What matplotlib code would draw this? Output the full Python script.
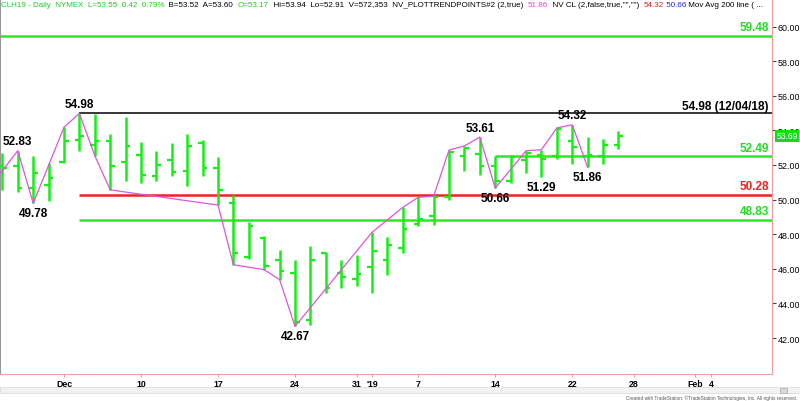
import matplotlib.pyplot as plt
from matplotlib.patches import Rectangle

# trading sessions (MM-DD), Nov 26 2018 .. Feb 8 2019
sessions = ["11-26", "11-27", "11-28", "11-29", "11-30", "12-03", "12-04", "12-05",
            "12-06", "12-07", "12-10", "12-11", "12-12", "12-13", "12-14", "12-17",
            "12-18", "12-19", "12-20", "12-21", "12-24", "12-26", "12-27", "12-28",
            "12-31", "01-02", "01-03", "01-04", "01-07", "01-08", "01-09", "01-10",
            "01-11", "01-14", "01-15", "01-16", "01-17", "01-18", "01-22", "01-23",
            "01-24", "01-25", "01-28", "01-29", "01-30", "01-31", "02-01", "02-04",
            "02-05", "02-06", "02-07", "02-08"]

# daily OHLC bars CLH19
bar_dates = sessions[1:42]
opens = [51.95, 51.95, 50.68, 50.85, 52.15, 53.46, 53.15, 53.40, 52.15, 52.59,
         51.36, 52.30, 51.67, 53.27, 51.82, 49.80, 46.66, 47.80, 46.52, 45.74,
         43.02, 46.91, 45.75, 45.41, 46.12, 46.52, 47.18, 48.60, 49.07, 50.13,
         52.50, 52.63, 51.95, 51.09, 52.30, 52.55, 52.53, 53.40, 52.50, 52.50, 53.17]
highs = [52.69, 52.83, 52.53, 52.10, 54.18, 54.98, 54.94, 53.81, 54.75, 53.31,
         52.79, 53.27, 53.79, 53.46, 52.44, 50.26, 48.68, 47.90, 47.08, 46.52,
         47.33, 46.98, 46.52, 46.79, 48.11, 47.81, 49.55, 50.13, 50.19, 52.86,
         53.10, 53.61, 52.50, 52.59, 52.82, 52.88, 54.14, 54.32, 53.60, 53.50, 53.94]
lows = [50.57, 50.42, 49.78, 49.93, 52.11, 52.82, 52.53, 50.56, 51.05, 50.95,
        51.05, 51.34, 50.77, 51.34, 49.68, 46.23, 46.56, 45.95, 45.37, 42.67,
        42.76, 44.60, 44.90, 44.98, 44.60, 45.66, 46.91, 48.45, 48.53, 50.00,
        51.67, 51.42, 50.66, 50.96, 51.53, 51.29, 52.34, 52.07, 51.86, 52.03, 52.91]
closes = [51.85, 50.69, 51.55, 51.24, 53.37, 53.69, 53.37, 51.96, 53.08, 51.44,
          52.01, 51.61, 53.08, 51.81, 50.55, 46.91, 48.49, 46.17, 45.90, 42.90,
          46.52, 44.87, 45.51, 45.70, 47.00, 47.37, 48.30, 48.85, 50.13, 52.73,
          52.96, 51.92, 51.05, 52.48, 52.67, 52.37, 54.08, 53.02, 52.57, 53.15, 53.69]

# NV_PLOTTRENDPOINTS swing line
pivot_dates = ["11-26", "11-28", "11-29", "12-03", "12-04", "12-05", "12-06", "12-17",
               "12-18", "12-20", "12-21", "12-24", "01-02", "01-04", "01-07", "01-08",
               "01-09", "01-10", "01-11", "01-14", "01-16", "01-17", "01-18", "01-22",
               "01-23"]
pivot_values = [50.50, 52.83, 49.78, 54.18, 54.98, 52.53, 50.56, 49.68, 46.23, 45.95,
                45.37, 42.67, 48.11, 49.55, 50.13, 50.19, 52.86, 53.10, 53.61, 50.66,
                52.82, 52.88, 54.14, 54.32, 51.86]

# labelled swing points
label_dates = ["11-28", "11-29", "12-04", "12-24", "01-11", "01-14", "01-17", "01-22", "01-23"]
label_values = [52.83, 49.78, 54.98, 42.67, 53.61, 50.66, 51.29, 54.32, 51.86]
label_above = [True, False, True, False, True, False, False, True, False]

# horizontal levels
level_values = [59.48, 54.98, 52.49, 50.28, 48.83]
level_starts = [None, "12-04", "01-14", "12-04", "12-04"]
level_texts = ["59.48", "54.98 (12/04/18)", "52.49", "50.28", "48.83"]
level_colors = ["#22ee22", "black", "#22ee22", "#ee2222", "#22ee22"]
level_text_colors = ["#22dd22", "black", "#22dd22", "#ee2222", "#22dd22"]

# x axis labels
tick_dates = ["12-03", "12-10", "12-17", "12-24", "12-31", "01-02", "01-07", "01-14",
              "01-22", "01-28", "02-01", "02-04"]
tick_labels = ["Dec", "10", "17", "24", "31", "'19", "7", "14", "22", "28", "Feb", "4"]

last_price = 53.69

plt.rcParams['font.family'] = ['Liberation Sans', 'DejaVu Sans']

GREEN = "#14f014"
MAGENTA = "#dd55dd"
PINK = "#e8a0a0"

fig = plt.figure(figsize=(8, 4.02), dpi=100)
ax = fig.add_axes([0, 27 / 402, 772 / 800, 375 / 402])
ax.set_xlim(0.844, 50.97)
ax.set_ylim(39.92, 61.59)

pos = lambda d: sessions.index(d)

# OHLC bars
xs = [pos(d) for d in bar_dates]
tick_w = 0.3
ax.vlines(xs, lows, highs, color=GREEN, lw=1.8, zorder=3)
ax.hlines(opens, [x - tick_w for x in xs], xs, color=GREEN, lw=1.6, zorder=3)
ax.hlines(closes, xs, [x + tick_w for x in xs], color=GREEN, lw=1.6, zorder=3)

# swing line
ax.plot([pos(d) for d in pivot_dates], pivot_values, color=MAGENTA, lw=0.9, zorder=4)

# levels
x_left, x_right = ax.get_xlim()
for v, s, t, c, tc in zip(level_values, level_starts, level_texts, level_colors, level_text_colors):
    x0 = x_left if s is None else pos(s)
    ax.hlines(v, x0, x_right, color=c, lw=1.1 if c == "black" else 1.8, zorder=2)
    ax.annotate(t, xy=(0.996, v), xycoords=('axes fraction', 'data'),
                xytext=(0, 1 if c == "black" else 2), textcoords='offset points',
                ha='right', va='bottom', color=tc, fontsize=8.5, fontweight='bold')

# swing labels
for d, v, up in zip(label_dates, label_values, label_above):
    ax.annotate(f"{v:.2f}", xy=(pos(d), v), xytext=(0, 2.5 if up else -2.5),
                textcoords='offset points', ha='center',
                va='bottom' if up else 'top', fontsize=8.5, fontweight='bold', zorder=5)

# axes styling
ax.spines['top'].set_visible(False)
ax.spines['left'].set_color('#999999')
ax.spines['right'].set_color(PINK)
ax.spines['bottom'].set_color(PINK)
ax.yaxis.tick_right()
ax.set_yticks(range(42, 61, 2))
ax.set_yticklabels([f"{v:.2f}" for v in range(42, 61, 2)])
ax.tick_params(axis='y', length=3, width=0.8, color='#444444', labelsize=6.4, pad=1)
ax.set_xticks([pos(d) for d in tick_dates])
ax.set_xticklabels(tick_labels)
ax.tick_params(axis='x', length=2.2, width=0.8, color=PINK, labelsize=6.3, pad=1.5)
for lab in ax.get_xticklabels():
    lab.set_fontweight('bold')

# last price tag
ax.annotate(f"{last_price:.2f}", xy=(1, last_price), xycoords=('axes fraction', 'data'),
            xytext=(3, 0), textcoords='offset points', ha='left', va='center',
            fontsize=6.2, color='white', annotation_clip=False, zorder=6,
            bbox=dict(boxstyle='square,pad=0.15', fc='#11dd11', ec='none'))

# header line, pieces chained left to right
pieces = [("CLH19 - Daily  NYMEX  L=53.55  0.42  0.79%", "#22cc22"),
          ("  B=53.52  A=53.60  ", "black"),
          ("O=53.17", "#22cc22"),
          ("  Hi=53.94  Lo=52.91  V=572,353  NV_PLOTTRENDPOINTS#2 (2,true)  ", "black"),
          ("51.86", "#dd44dd"),
          ("  NV CL (2,false,true,\"\",\"\")  ", "black"),
          ("54.32", "#dd2222"),
          (" 50.66", "#2222dd"),
          (" Mov Avg 200 line ( ...", "black")]
HDR = 5.8
last = fig.text(1 / 800, 1 - 9 / 402, pieces[0][0], color=pieces[0][1], fontsize=HDR,
                ha='left', va='bottom')
for txt, col in pieces[1:]:
    last = ax.annotate(txt, xy=(1, 0), xycoords=last, ha='left', va='bottom',
                       color=col, fontsize=HDR, annotation_clip=False)

# scroll bar and credit line
fig.patches.append(Rectangle((0, 8 / 402), 1, 6 / 402, transform=fig.transFigure,
                             fc='#f2f2f2', ec='#dddddd', lw=0.6))
fig.patches.append(Rectangle((780 / 800, 8.5 / 402), 7 / 800, 5 / 402, transform=fig.transFigure,
                             fc='#d8d8d8', ec='#aaaaaa', lw=0.5))
fig.text(797 / 800, 1 / 402,
         "Created with TradeStation. \u00a9TradeStation Technologies, Inc. All rights reserved.",
         fontsize=3.4, color='#555555', ha='right', va='bottom')

fig.savefig("out.png", dpi=100)
